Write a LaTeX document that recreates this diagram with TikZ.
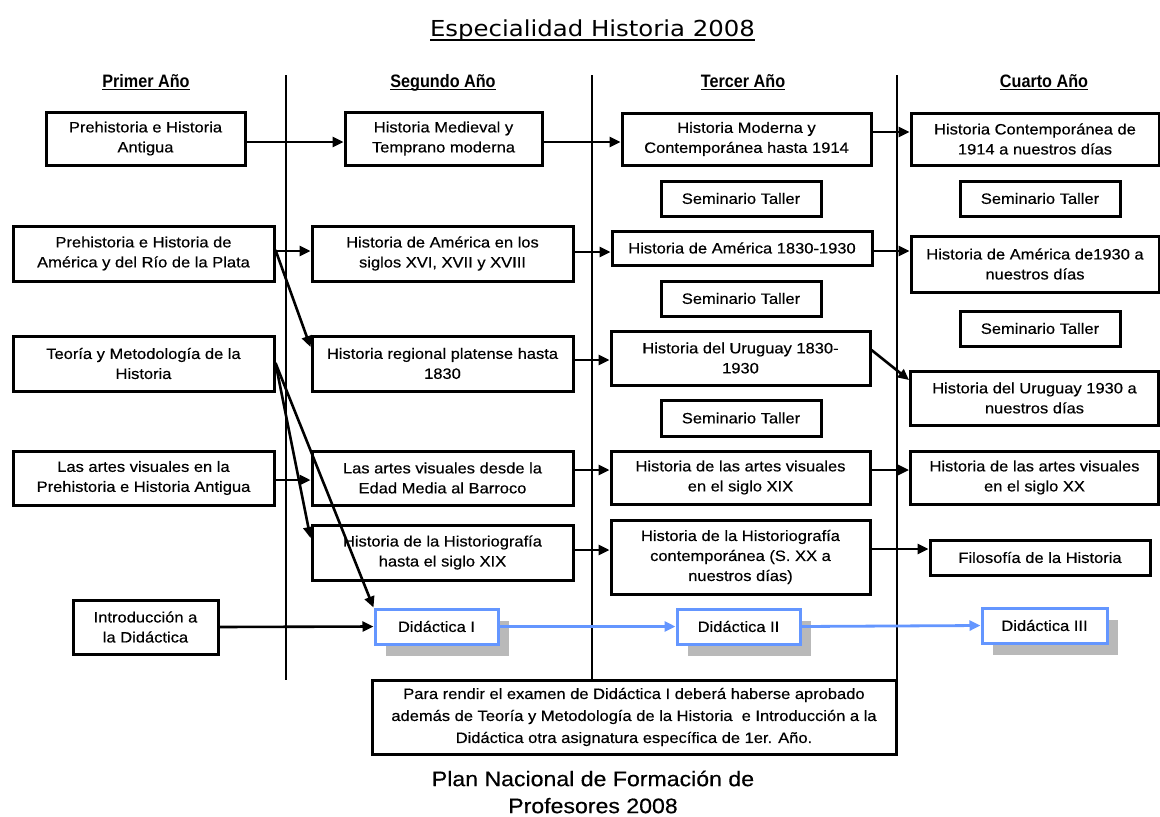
\documentclass[tikz,border=0pt]{standalone}
\usepackage{graphicx}
\usepackage{fontspec}
\setmainfont{Liberation Sans}[FakeStretch=1.1, FakeBold=0.4]
\newfontfamily\titlefont{DejaVu Sans}
\newfontfamily\headfont{Liberation Sans}[FakeStretch=0.9]
\usetikzlibrary{arrows.meta,shadows}
\definecolor{dblue}{RGB}{100,150,255}
\newcommand\myul[1]{\setbox0=\hbox{#1}\rlap{\rule[-3pt]{\wd0}{1.4pt}}\box0}
\newcommand\mytitleul[1]{\setbox0=\hbox{#1}\rlap{\rule[-4.5pt]{\wd0}{1.5pt}}\box0}
\begin{document}
\begin{tikzpicture}[x=1pt,y=-1pt,
  box/.style={draw, line width=3pt, fill=white, inner sep=0pt, align=center,
    font=\fontsize{15}{20}\selectfont},
  arr/.style={line width=2.6pt, -{Triangle[length=11pt,width=10pt]}},
  barr/.style={line width=2.8pt, draw=dblue, -{Triangle[length=11pt,width=10pt,fill=dblue]}},
  did/.style={box, draw=dblue, line width=3pt,
    drop shadow={shadow xshift=11pt, shadow yshift=-12pt, fill=gray!55, draw=none, opacity=1}},
  sep/.style={line width=2pt},
  head/.style={anchor=base, inner sep=0pt, font=\headfont\fontsize{18}{20}\selectfont\bfseries}]
\useasboundingbox (0,0) rectangle (1160,817);
\fill[white] (0,0) rectangle (1160,817);

% title
\node[anchor=base, inner sep=0pt] (title) at (592.5,36)
  {\mytitleul{\resizebox{325pt}{\height}{\titlefont\fontsize{22}{26}\selectfont Especialidad Historia 2008}}};

% column headers
\node[head] (h1) at (146,87) {\myul{Primer Año}};
\node[head] (h2) at (443,87) {\myul{Segundo Año}};
\node[head] (h3) at (743,87) {\myul{Tercer Año}};
\node[head] (h4) at (1044,87) {\myul{Cuarto Año}};

% separators
\draw[sep] (286,75) -- (286,680);
\draw[sep] (592,75) -- (592,680);
\draw[sep] (897,75) -- (897,680);

% first year
\node[box, minimum width=199, minimum height=53] (p1) at (145.5,138.5) {Prehistoria e Historia\\Antigua};
\node[box, minimum width=261, minimum height=55] (p2) at (143.5,253.5) {Prehistoria e Historia de\\América y del Río de la Plata};
\node[box, minimum width=261, minimum height=55] (p3) at (143.5,363.5) {Teoría y Metodología de la\\Historia};
\node[box, minimum width=261, minimum height=54] (p4) at (143.5,478) {Las artes visuales en la\\Prehistoria e Historia Antigua};
\node[box, minimum width=145, minimum height=54] (p5) at (145.5,627) {Introducción a\\la Didáctica};

% second year
\node[box, minimum width=197, minimum height=53] (s1) at (443.5,138.5) {Historia Medieval y\\Temprano moderna};
\node[box, minimum width=261, minimum height=55] (s2) at (442.5,253.5) {Historia de América en los\\siglos XVI, XVII y XVIII};
\node[box, minimum width=261, minimum height=55] (s3) at (442.5,363.5) {Historia regional platense hasta\\1830};
\node[box, minimum width=261, minimum height=54] (s4) at (442.5,478) {Las artes visuales desde la\\Edad Media al Barroco};
\node[box, minimum width=261, minimum height=55] (s5) at (442.5,552.5) {Historia de la Historiografía\\hasta el siglo XIX};
\node[did, minimum width=123, minimum height=35] (d1) at (436.5,626.5) {Didáctica I};

% third year
\node[box, minimum width=249, minimum height=52] (t1) at (746.5,139) {Historia Moderna y\\Contemporánea hasta 1914};
\node[box, minimum width=160, minimum height=35] (st1) at (741,198.5) {Seminario Taller};
\node[box, minimum width=260, minimum height=34] (t2) at (742,248) {Historia de América 1830-1930};
\node[box, minimum width=160, minimum height=35] (st2) at (741,298.5) {Seminario Taller};
\node[box, minimum width=259, minimum height=54] (t3) at (740.5,358) {Historia del Uruguay 1830-\\1930};
\node[box, minimum width=160, minimum height=36] (st3) at (741,418) {Seminario Taller};
\node[box, minimum width=259, minimum height=53] (t4) at (740.5,477.5) {Historia de las artes visuales\\en el siglo XIX};
\node[box, minimum width=259, minimum height=74] (t5) at (740.5,557) {Historia de la Historiografía\\contemporánea (S. XX a\\nuestros días)};
\node[did, minimum width=123, minimum height=35] (d2) at (738.5,626.5) {Didáctica II};

% fourth year
\node[box, minimum width=248, minimum height=52] (c1) at (1035,139) {Historia Contemporánea de\\1914 a nuestros días};
\node[box, minimum width=160, minimum height=35] (st4) at (1040,198.5) {Seminario Taller};
\node[box, minimum width=248, minimum height=56] (c2) at (1035,264) {Historia de América de1930 a\\nuestros días};
\node[box, minimum width=160, minimum height=35] (st5) at (1040,328.5) {Seminario Taller};
\node[box, minimum width=248, minimum height=54] (c3) at (1034.5,398) {Historia del Uruguay 1930 a\\nuestros días};
\node[box, minimum width=248, minimum height=53] (c4) at (1034.5,477.5) {Historia de las artes visuales\\en el siglo XX};
\node[box, minimum width=220, minimum height=35] (f) at (1040,557.5) {Filosofía de la Historia};
\node[did, minimum width=125, minimum height=35] (d3) at (1044.5,625.5) {Didáctica III};

% note and footer
\node[box, minimum width=524, minimum height=74, font=\fontsize{15}{22}\selectfont] (note) at (634,717)
  {Para rendir el examen de Didáctica I deberá haberse aprobado\\además de Teoría y Metodología de la Historia \ e Introducción a la\\Didáctica otra asignatura específica de 1er. Año.};
\node[align=center, inner sep=0pt, font=\fontsize{21}{27}\selectfont] (foot) at (593,792)
  {Plan Nacional de Formación de\\Profesores 2008};

% connectors
\draw[arr] ([yshift=-3.5pt]p1.east) -- ([yshift=-3.5pt]s1.west);
\draw[arr] ([yshift=-3.5pt]s1.east) -- ([yshift=-3pt]t1.west);
\draw[arr] ([yshift=7pt]t1.east) -- ([yshift=7pt]c1.west);
\draw[arr] ([yshift=2.5pt]p2.east) -- ([yshift=2.5pt]s2.west);
\draw[arr] ([yshift=3.5pt]p2.east) -- ([yshift=16.5pt]s3.west);
\draw[arr] ([yshift=1.5pt]s2.east) -- ([yshift=-4pt]t2.west);
\draw[arr] ([yshift=-3pt]t2.east) -- ([yshift=13pt]c2.west);
\draw[arr] ([yshift=3.5pt]s3.east) -- ([yshift=-2pt]t3.west);
\draw[arr] ([yshift=8pt]t3.east) -- ([yshift=18pt]c3.west);
\draw[arr] ([yshift=0.5pt]p3.east) -- ([yshift=14.5pt]s5.west);
\draw[arr] ([yshift=0.5pt]p3.east) -- (d1.north west);
\draw[arr] ([yshift=-2pt]p4.east) -- ([yshift=-2pt]s4.west);
\draw[arr] ([yshift=8pt]s4.east) -- ([yshift=7.5pt]t4.west);
\draw[arr] ([yshift=7.5pt]t4.east) -- ([yshift=7.5pt]c4.west);
\draw[arr] ([yshift=2.5pt]s5.east) -- ([yshift=7pt]t5.west);
\draw[arr] ([yshift=8pt]t5.east) -- ([yshift=8.5pt]f.west);
\draw[arr] (p5.east) -- (d1.west);
\draw[barr] (d1.east) -- (d2.west);
\draw[barr] (d2.east) -- (d3.west);
\end{tikzpicture}
\end{document}
